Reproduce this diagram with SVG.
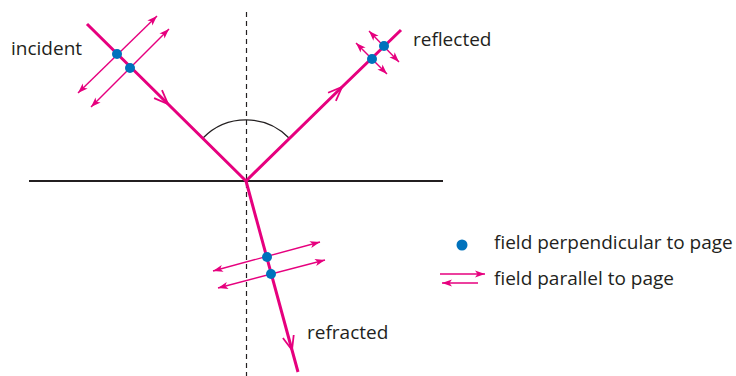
<svg xmlns="http://www.w3.org/2000/svg" width="736" height="376" viewBox="0 0 736 376">
<style>
.ray{fill:none;stroke:#e6007e;stroke-width:3;marker-mid:url(#chev)}
.fld{fill:none;stroke:#e6007e;stroke-width:1.4;marker-start:url(#ah);marker-end:url(#ah)}
.dot{fill:#0072bc}
.txt{font-family:"Open Sans","Liberation Sans",sans-serif;font-size:19px;fill:#231f20}
</style>
<defs>
<marker id="chev" markerUnits="userSpaceOnUse" orient="auto" viewBox="-16 -8 18 16" refX="0" refY="0" markerWidth="18" markerHeight="16" overflow="visible">
<path d="M-14,-5.6 L0,0 L-14,5.6" fill="none" stroke="#e6007e" stroke-width="1.8"/>
</marker>
<marker id="ah" markerUnits="userSpaceOnUse" orient="auto-start-reverse" viewBox="-10 -4 11 8" refX="0" refY="0" markerWidth="11" markerHeight="8" overflow="visible">
<path d="M0,0 L-10,-3.6 L-7.5,0 L-10,3.6 Z" fill="#e6007e"/>
</marker>
</defs>
<g id="interface">
<line x1="29" y1="181" x2="443" y2="181" stroke="#231f20" stroke-width="2"/>
<line x1="246.5" y1="12" x2="246.5" y2="376" stroke="#231f20" stroke-width="1.2" stroke-dasharray="5,4"/>
<path d="M203,138 A60,60 0 0 1 289,138" fill="none" stroke="#231f20" stroke-width="1.3"/>
</g>
<g id="connectors">
<path class="ray" d="M87,24 L168,104 L246,181"/>
<path class="ray" d="M246,181 L342,87 L401,30"/>
<path class="ray" d="M246,181 L292,350 L298,372"/>
</g>
<g id="incident">
<line class="fld" x1="78" y1="93" x2="157" y2="16"/>
<line class="fld" x1="91" y1="107" x2="169" y2="29"/>
<circle class="dot" cx="117" cy="54" r="5"/>
<circle class="dot" cx="130" cy="68" r="5"/>
<text class="txt" x="11" y="55">incident</text>
</g>
<g id="reflected">
<line class="fld" x1="356" y1="43" x2="387" y2="74"/>
<line class="fld" x1="369" y1="31" x2="399" y2="62"/>
<circle class="dot" cx="372" cy="59" r="5"/>
<circle class="dot" cx="384" cy="46" r="5"/>
<text class="txt" x="413" y="46">reflected</text>
</g>
<g id="refracted">
<line class="fld" x1="213" y1="271" x2="320" y2="242"/>
<line class="fld" x1="218" y1="288" x2="325" y2="260"/>
<circle class="dot" cx="267" cy="257" r="5"/>
<circle class="dot" cx="271" cy="274" r="5"/>
<text class="txt" x="307" y="339">refracted</text>
</g>
<g id="legend">
<circle class="dot" cx="462" cy="245" r="5.5"/>
<text class="txt" x="494" y="249">field perpendicular to page</text>
<line x1="440" y1="274" x2="485" y2="274" stroke="#e6007e" stroke-width="1.4" marker-end="url(#ah)"/>
<line x1="478" y1="283" x2="442" y2="283" stroke="#e6007e" stroke-width="1.4" marker-end="url(#ah)"/>
<text class="txt" x="494" y="285">field parallel to page</text>
</g>
</svg>
